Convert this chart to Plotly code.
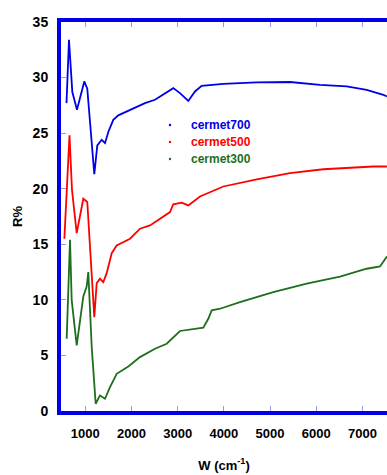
import plotly.graph_objects as go

# Wavenumber (cm^-1) and reflectance (%) for each cermet sample
w700 = [593, 647, 719, 820, 978, 1043, 1195, 1260, 1355, 1427, 1498, 1606, 1715,
        1931, 2184, 2292, 2509, 2905, 3050, 3230, 3375, 3520, 3988, 4711, 5432,
        6081, 6659, 7092, 7452, 7530]
r700 = [27.7, 33.4, 28.7, 27.1, 29.65, 29.0, 21.3, 23.9, 24.4, 24.1, 25.1, 26.2, 26.6,
        27.0, 27.5, 27.7, 28.0, 29.05, 28.6, 27.9, 28.75, 29.26, 29.44, 29.56, 29.6,
        29.35, 29.2, 28.9, 28.45, 28.3]

w500 = [547, 658, 712, 814, 957, 1043, 1195, 1247, 1318, 1390, 1463, 1572, 1680,
        1968, 2184, 2401, 2834, 2905, 3087, 3230, 3483, 3700, 3988, 4711, 5432,
        6153, 6731, 7235, 7530]
r500 = [15.5, 24.8, 19.9, 16.0, 19.1, 18.8, 8.45, 11.5, 11.9, 11.6, 12.4, 14.2, 14.9,
        15.5, 16.4, 16.7, 17.9, 18.6, 18.75, 18.5, 19.3, 19.7, 20.2, 20.85, 21.4,
        21.75, 21.9, 22.0, 22.0]

w300 = [597, 669, 705, 814, 957, 1030, 1065, 1139, 1225, 1318, 1427, 1535, 1680,
        1931, 2184, 2509, 2762, 2905, 3050, 3555, 3663, 3736, 3916, 4349, 5070,
        5793, 6514, 7092, 7380, 7530]
r300 = [6.5, 15.4, 10.0, 5.9, 10.3, 11.2, 12.5, 5.75, 0.65, 1.4, 1.1, 2.15, 3.35,
        4.0, 4.85, 5.6, 6.05, 6.65, 7.2, 7.5, 8.3, 9.06, 9.2, 9.8, 10.7,
        11.45, 12.1, 12.8, 13.0, 13.9]

names = ["cermet700", "cermet500", "cermet300"]
colors = ["#0000e6", "#ff0000", "#1e6e1e"]
x_ticks = [1000, 2000, 3000, 4000, 5000, 6000, 7000]
y_ticks = [0, 5, 10, 15, 20, 25, 30, 35]

W, H = 387, 475
ML, MR, MT, MB = 61, 0, 22, 64

fig = go.Figure()
for xs, ys, name, col in zip([w700, w500, w300], [r700, r500, r300], names, colors):
    fig.add_trace(go.Scatter(x=xs, y=ys, mode="lines", name=name,
                             line=dict(color=col, width=1.8), showlegend=False))

# Hand-placed legend: small dots with coloured labels
def px_to_paper(px, py):
    return (px - ML) / (W - ML - MR), (H - MB - py) / (H - MT - MB)

for i, (name, col) in enumerate(zip(names, colors)):
    py = 125 + i * 17
    dx, dy = px_to_paper(170, py)
    tx, _ = px_to_paper(189, py)
    fig.add_shape(type="circle", xref="paper", yref="paper", xsizemode="pixel",
                  ysizemode="pixel", xanchor=dx, yanchor=dy, x0=-1.2, x1=1.2,
                  y0=-1.2, y1=1.2, fillcolor=col, line=dict(width=0))
    fig.add_annotation(xref="paper", yref="paper", x=tx, y=dy, xanchor="left",
                       yanchor="middle", showarrow=False, text=f"<b>{name}</b>",
                       font=dict(family="Liberation Sans, Arial", size=12, color=col))

axis_common = dict(showline=True, linecolor="#0000e6", linewidth=4, ticks="inside",
                   ticklen=5, tickwidth=1, tickcolor="#9a9ae6", showgrid=False,
                   zeroline=False)

fig.update_xaxes(range=[474, 7532], tickvals=x_ticks, mirror="ticks",
                 tickfont=dict(family="Liberation Sans, Arial", size=13, color="black",
                               weight="bold"),
                 ticklabelstandoff=7,
                 title=dict(text="<b>W (cm<sup>-1</sup>)</b>", standoff=22,
                            font=dict(family="Liberation Sans, Arial", size=13,
                                      color="black")),
                 **axis_common)
fig.update_yaxes(range=[0, 35], tickvals=y_ticks,
                 tickfont=dict(family="Liberation Sans, Arial", size=14, color="black",
                               weight="bold"),
                 ticklabelstandoff=6,
                 title=dict(text="<b>R%</b>", standoff=8,
                            font=dict(family="Liberation Sans, Arial", size=13,
                                      color="black")),
                 **axis_common)

fig.update_layout(width=W, height=H, margin=dict(l=ML, r=MR, t=MT, b=MB),
                  paper_bgcolor="white", plot_bgcolor="white")

fig.write_html("out.html")
